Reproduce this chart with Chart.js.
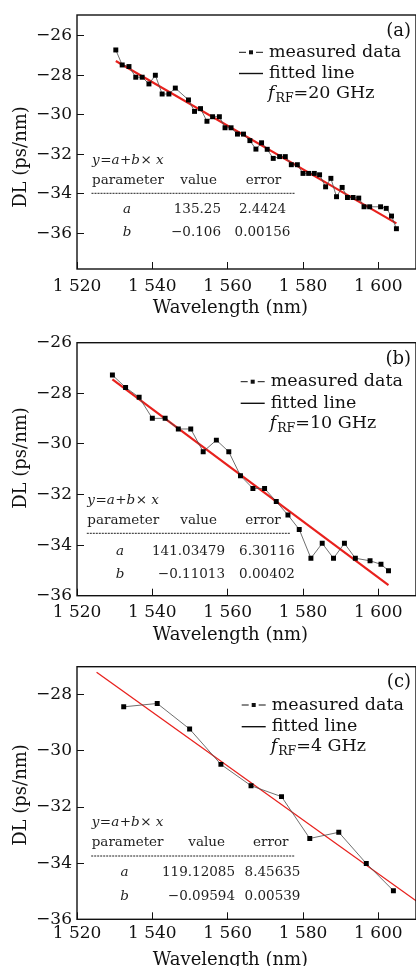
<!DOCTYPE html>
<html>
<head>
<meta charset="utf-8">
<script src="https://cdn.jsdelivr.net/npm/chart.js@4.4.1/dist/chart.umd.min.js"></script>
<style>
  html, body { margin: 0; padding: 0; background: #fff; width: 416px; height: 966px; overflow: hidden; position: relative; }
  canvas { position: absolute; left: 0; }
</style>
</head>
<body>
<canvas id="chartA" width="420" height="320" style="top:0px"></canvas>
<canvas id="chartB" width="420" height="325" style="top:320px"></canvas>
<canvas id="chartC" width="420" height="325" style="top:645px"></canvas>
<script>
// ---- data ----
const xTicks = [1520, 1540, 1560, 1580, 1600];
const yTicksA = [-36, -34, -32, -30, -28, -26];
const yTicksB = [-36, -34, -32, -30, -28, -26];
const yTicksC = [-36, -34, -32, -30, -28];

// (a) fRF = 20 GHz
const wlA = [1530.3, 1532.0, 1533.8, 1535.6, 1537.3, 1539.1, 1540.8, 1542.6, 1544.4, 1546.1,
  1549.6, 1551.2, 1552.8, 1554.5, 1556.0, 1557.8, 1559.3, 1560.9, 1562.6, 1564.2,
  1565.9, 1567.5, 1569.0, 1570.5, 1572.1, 1573.8, 1575.3, 1576.9, 1578.5, 1580.0,
  1581.5, 1583.0, 1584.4, 1586.0, 1587.4, 1588.9, 1590.4, 1591.8, 1593.3, 1594.8,
  1596.2, 1597.7, 1600.6, 1602.1, 1603.5, 1604.8];
const dlA = [-26.71, -27.47, -27.55, -28.09, -28.09, -28.43, -27.99, -28.94, -28.94, -28.64,
  -29.24, -29.82, -29.68, -30.32, -30.09, -30.09, -30.65, -30.65, -30.97, -30.97,
  -31.30, -31.73, -31.41, -31.74, -32.20, -32.11, -32.11, -32.52, -32.52, -32.96,
  -32.96, -32.96, -33.03, -33.64, -33.21, -34.14, -33.67, -34.18, -34.18, -34.21,
  -34.65, -34.65, -34.65, -34.73, -35.12, -35.76];
const fitWlA = [1530.3, 1604.8];
const fitDlA = [-27.27, -35.49];
const paramsA = ['135.25', '2.4424', '\u22120.106', '0.00156'];

// (b) fRF = 10 GHz
const wlB = [1529.4, 1532.9, 1536.5, 1540.0, 1543.4, 1546.9, 1550.2, 1553.5, 1557.0, 1560.3,
  1563.4, 1566.7, 1569.8, 1572.9, 1576.0, 1579.0, 1582.1, 1585.1, 1588.1, 1591.0,
  1593.9, 1597.8, 1600.7, 1602.7];
const dlB = [-27.28, -27.77, -28.16, -28.99, -28.99, -29.41, -29.41, -30.31, -29.85, -30.31,
  -31.26, -31.76, -31.76, -32.28, -32.81, -33.38, -34.52, -33.93, -34.52, -33.93,
  -34.52, -34.62, -34.76, -35.01];
const fitWlB = [1529.4, 1602.7];
const fitDlB = [-27.45, -35.58];
const paramsB = ['141.03479', '6.30116', '\u22120.11013', '0.00402'];

// (c) fRF = 4 GHz
const wlC = [1532.4, 1541.3, 1549.9, 1558.2, 1566.2, 1574.3, 1581.8, 1589.5, 1596.8, 1604.0];
const dlC = [-28.43, -28.31, -29.22, -30.48, -31.24, -31.63, -33.12, -32.90, -34.01, -34.98];
const fitWlC = [1525.2, 1612];
const fitDlC = [-27.2, -35.53];
const paramsC = ['119.12085', '8.45635', '\u22120.09594', '0.00539'];

const SERIF = '"DejaVu Serif", "Liberation Serif", serif';
const INK = '#111';

function fmtWl(v) {
  const s = String(v);
  return s.slice(0, 1) + ' ' + s.slice(1);
}
function fmtDl(v) {
  return v < 0 ? '\u2212' + Math.abs(v) : String(v);
}

// draws the frame, axis titles, legend, fit table and panel tag
function decor(p) {
  return {
    id: 'decor',
    afterDraw(chart) {
      const ctx = chart.ctx;
      const a = chart.chartArea;
      const o = p.top;
      ctx.save();
      ctx.strokeStyle = INK;
      ctx.lineWidth = 1.4;
      ctx.strokeRect(a.left, a.top, a.right - a.left, a.bottom - a.top);

      ctx.fillStyle = INK;
      ctx.textBaseline = 'middle';
      ctx.font = '18px ' + SERIF;
      ctx.textAlign = 'center';
      ctx.fillText('Wavelength (nm)', 230.5, p.xTitle - o);
      ctx.save();
      ctx.translate(21, p.yTitle - o);
      ctx.rotate(-Math.PI / 2);
      ctx.fillText('DL (ps/nm)', 0, 0);
      ctx.restore();

      ctx.textAlign = 'right';
      ctx.fillText(p.tag, 411, p.tagY - o);

      // legend
      const lx = p.legX;
      const y1 = p.leg[0] - o, y2 = p.leg[1] - o, y3 = p.leg[2] - o;
      ctx.lineWidth = 1;
      ctx.beginPath();
      ctx.moveTo(lx, y1); ctx.lineTo(lx + 7, y1);
      ctx.moveTo(lx + 17, y1); ctx.lineTo(lx + 24, y1);
      ctx.stroke();
      ctx.fillRect(lx + 10, y1 - 2, 4, 4);
      ctx.lineWidth = 1.4;
      ctx.beginPath();
      ctx.moveTo(lx, y2); ctx.lineTo(lx + 24, y2);
      ctx.stroke();
      ctx.textAlign = 'left';
      ctx.font = '17.5px ' + SERIF;
      ctx.fillText('measured data', lx + 30, y1);
      ctx.fillText('fitted line', lx + 30, y2);

      ctx.textBaseline = 'alphabetic';
      let x = lx + 29;
      const base = y3 + 6;
      ctx.font = 'italic 17.5px ' + SERIF;
      ctx.fillText('f', x, base);
      x += ctx.measureText('f').width + 1;
      ctx.font = '12.5px ' + SERIF;
      ctx.fillText('RF', x, base + 4);
      x += ctx.measureText('RF').width;
      ctx.font = '17.5px ' + SERIF;
      ctx.fillText('=' + p.freq, x, base);

      // fit table
      const t = p.table;
      const r = t.rows.map(v => v - o);
      ctx.fillStyle = '#1e1e1e';
      ctx.strokeStyle = '#1e1e1e';
      ctx.textBaseline = 'middle';
      ctx.textAlign = 'left';
      let ex = t.left;
      [['y', 1], ['=', 0], ['a', 1], ['+', 0], ['b', 1], ['\u00d7', 0], [' x', 1]].forEach(([s, it]) => {
        ctx.font = (it ? 'italic ' : '') + '13.5px ' + SERIF;
        ctx.fillText(s, ex, r[0]);
        ex += ctx.measureText(s).width + (it ? 0.5 : 0);
      });
      ctx.font = '13.5px ' + SERIF;
      ctx.fillText('parameter', t.left, r[1]);
      ctx.textAlign = 'center';
      ctx.fillText('value', t.valHead, r[1]);
      ctx.fillText('error', t.errHead, r[1]);
      ctx.lineWidth = 1;
      ctx.setLineDash([2, 1]);
      ctx.beginPath();
      ctx.moveTo(t.left - 0.5, r[2]);
      ctx.lineTo(t.lineEnd, r[2]);
      ctx.stroke();
      ctx.setLineDash([]);
      ctx.font = 'italic 13.5px ' + SERIF;
      ctx.fillText('a', t.sym, r[3]);
      ctx.fillText('b', t.sym, r[4]);
      ctx.font = '13.5px ' + SERIF;
      ctx.textAlign = 'right';
      ctx.fillText(p.params[0], t.valRight, r[3]);
      ctx.fillText(p.params[2], t.valRight, r[4]);
      ctx.textAlign = 'center';
      ctx.fillText(p.params[1], t.errCenter, r[3]);
      ctx.fillText(p.params[3], t.errCenter, r[4]);
      ctx.restore();
    }
  };
}

function makeChart(id, wl, dl, fitWl, fitDl, yMin, yMax, yTicks, g, p) {
  const measured = wl.map((v, i) => ({ x: v, y: dl[i] }));
  const fitted = fitWl.map((v, i) => ({ x: v, y: fitDl[i] }));
  return new Chart(document.getElementById(id), {
    type: 'scatter',
    data: {
      datasets: [
        {
          data: measured,
          showLine: true,
          borderColor: '#4a4a4a',
          borderWidth: 0.8,
          pointStyle: 'rect',
          pointRadius: 3.5,
          pointBorderWidth: 0,
          pointBackgroundColor: '#000'
        },
        {
          data: fitted,
          showLine: true,
          borderColor: '#e8211d',
          borderWidth: g.fitWidth,
          pointRadius: 0
        }
      ]
    },
    options: {
      responsive: false,
      animation: false,
      events: [],
      devicePixelRatio: 1,
      layout: { padding: { top: g.padTop, left: 0, right: 2, bottom: 0 } },
      plugins: { legend: { display: false }, tooltip: { enabled: false } },
      scales: {
        x: {
          type: 'linear',
          min: 1520,
          max: 1610,
          afterBuildTicks: s => { s.ticks = xTicks.map(v => ({ value: v })); },
          afterFit: s => {
            s.height = g.xAxisH;
            s.paddingLeft = 0; s.paddingRight = 0;
          },
          border: { display: false },
          grid: { drawOnChartArea: false, tickLength: -7, color: INK, lineWidth: 1 },
          ticks: {
            autoSkip: false, maxRotation: 0, padding: g.xPad, color: INK,
            font: { family: SERIF, size: 17 },
            callback: v => fmtWl(v)
          }
        },
        y: {
          type: 'linear',
          min: yMin,
          max: yMax,
          afterBuildTicks: s => { s.ticks = yTicks.map(v => ({ value: v })); },
          afterFit: s => {
            s.width = 77;
            s.paddingTop = 0; s.paddingBottom = 0;
          },
          border: { display: false },
          grid: { drawOnChartArea: false, tickLength: -7, color: INK, lineWidth: 1 },
          ticks: {
            autoSkip: false, padding: 12, color: INK,
            font: { family: SERIF, size: 17 },
            callback: v => fmtDl(v)
          }
        }
      }
    },
    plugins: [decor(p)]
  });
}

makeChart('chartA', wlA, dlA, fitWlA, fitDlA, -37.8, -24.94, yTicksA,
  { padTop: 15, xAxisH: 51, xPad: 14.8, fitWidth: 2.2 },
  {
    top: 0, tag: '(a)', tagY: 31, freq: '20 GHz', params: paramsA,
    xTitle: 308.5, yTitle: 157,
    legX: 239, leg: [52.3, 73.5, 91.7],
    table: { left: 92, lineEnd: 295, rows: [160, 180, 193.3, 209.3, 232.3],
      sym: 127, valHead: 198.7, errHead: 263.5, valRight: 221, errCenter: 262.5 }
  });

makeChart('chartB', wlB, dlB, fitWlB, fitDlB, -36, -26, yTicksB,
  { padTop: 22.7, xAxisH: 49.3, xPad: 13.5, fitWidth: 2.2 },
  {
    top: 320, tag: '(b)', tagY: 359.3, freq: '10 GHz', params: paramsB,
    xTitle: 635, yTitle: 458,
    legX: 240.7, leg: [381.7, 403.3, 421.7],
    table: { left: 87.3, lineEnd: 290.7, rows: [500, 520, 533.3, 551, 574],
      sym: 120, valHead: 198.7, errHead: 263, valRight: 225, errCenter: 267 }
  });

makeChart('chartC', wlC, dlC, fitWlC, fitDlC, -36, -27, yTicksC,
  { padTop: 21.7, xAxisH: 50.7, xPad: 11.5, fitWidth: 1.3 },
  {
    top: 645, tag: '(c)', tagY: 682.7, freq: '4 GHz', params: paramsC,
    xTitle: 960, yTitle: 795,
    legX: 241.7, leg: [705, 726.7, 745],
    table: { left: 91.7, lineEnd: 295, rows: [822.7, 842.3, 856, 872.3, 896.7],
      sym: 124.5, valHead: 206.7, errHead: 270.8, valRight: 235, errCenter: 272.5 }
  });
</script>
</body>
</html>
